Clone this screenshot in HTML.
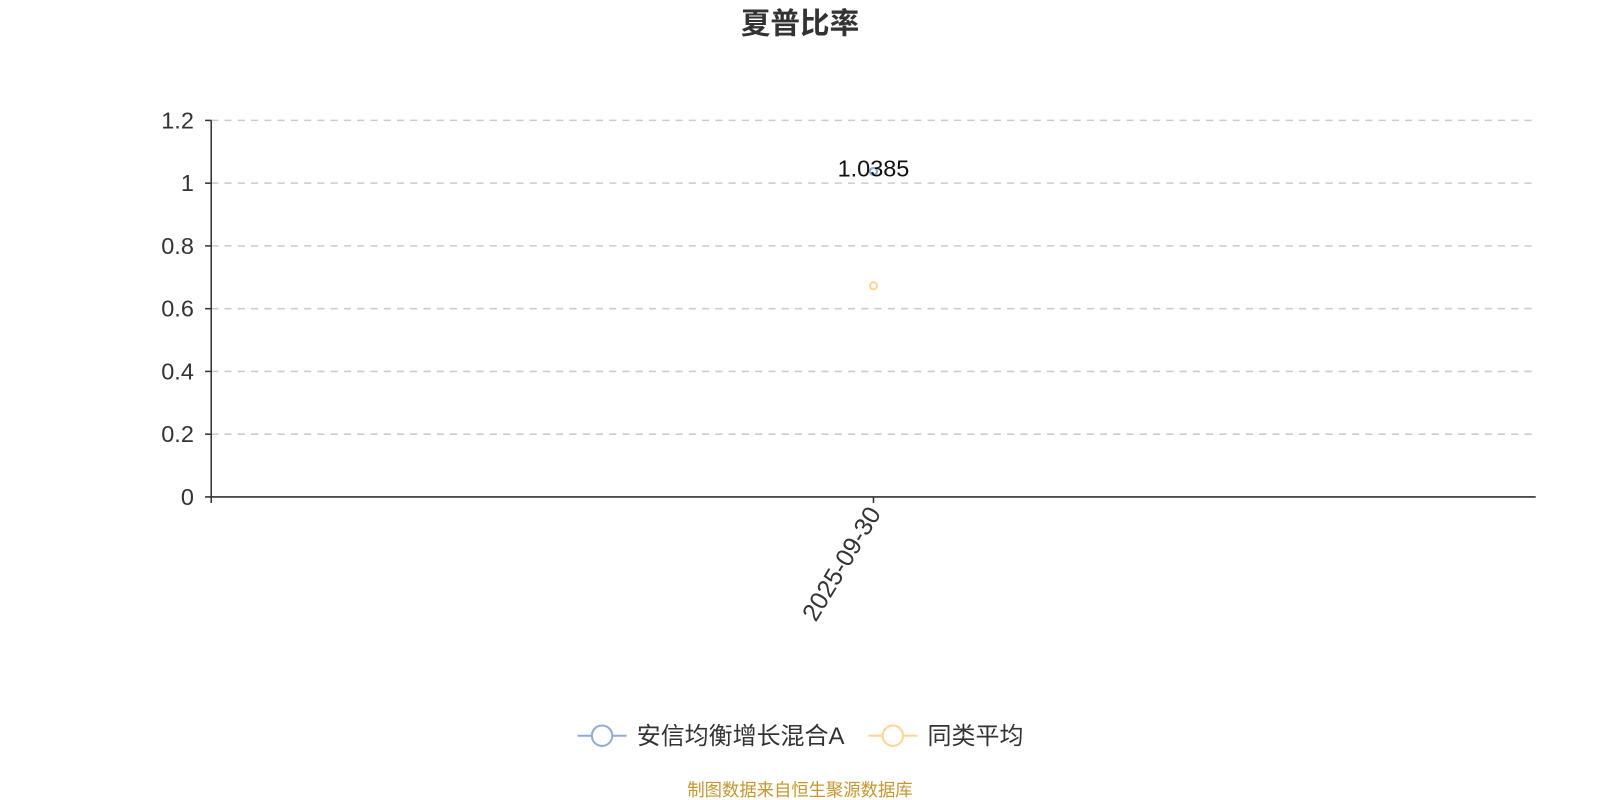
<!DOCTYPE html>
<html><head><meta charset="utf-8"><style>
body{margin:0;background:#fff;width:1600px;height:800px;overflow:hidden}
svg{display:block}
svg text{font-family:"Liberation Sans","Noto Sans CJK SC",sans-serif}
</style></head><body>
<svg width="1600" height="800" viewBox="0 0 1568 784" xmlns="http://www.w3.org/2000/svg">
<text x="784" y="33" text-anchor="middle" font-size="29" font-weight="bold" fill="#333">夏普比率</text>
<g stroke="#ccc" stroke-width="1.5" stroke-dasharray="7,6">
<line x1="207" y1="118" x2="1505" y2="118"/>
<line x1="207" y1="179.5" x2="1505" y2="179.5"/>
<line x1="207" y1="241" x2="1505" y2="241"/>
<line x1="207" y1="302.5" x2="1505" y2="302.5"/>
<line x1="207" y1="364" x2="1505" y2="364"/>
<line x1="207" y1="425.5" x2="1505" y2="425.5"/>
</g>
<g stroke="#333" stroke-width="1.5">
<line x1="207" y1="118" x2="207" y2="493"/>
<line x1="201" y1="487" x2="1505" y2="487"/>
<line x1="201" y1="118" x2="207" y2="118"/>
<line x1="201" y1="179.5" x2="207" y2="179.5"/>
<line x1="201" y1="241" x2="207" y2="241"/>
<line x1="201" y1="302.5" x2="207" y2="302.5"/>
<line x1="201" y1="364" x2="207" y2="364"/>
<line x1="201" y1="425.5" x2="207" y2="425.5"/>
<line x1="856" y1="487" x2="856" y2="493"/>
</g>
<g font-size="23" fill="#333" text-anchor="end">
<text x="190" y="126">1.2</text>
<text x="190" y="187">1</text>
<text x="190" y="249">0.8</text>
<text x="190" y="310">0.6</text>
<text x="190" y="372">0.4</text>
<text x="190" y="433">0.2</text>
<text x="190" y="495">0</text>
</g>
<text transform="translate(864,503) rotate(-59)" text-anchor="end" font-size="24.5" fill="#333">2025-09-30</text>
<circle cx="856" cy="168" r="3.5" fill="#fff" stroke="#8eacdb" stroke-width="2"/>
<circle cx="856" cy="280" r="3.5" fill="#fff" stroke="#ffd590" stroke-width="2"/>
<text x="856" y="173" text-anchor="middle" font-size="23" fill="#111">1.0385</text>
<line x1="566" y1="721" x2="614" y2="721" stroke="#8eacdb" stroke-width="2"/>
<circle cx="590" cy="721" r="10" fill="#fff" stroke="#8eacdb" stroke-width="2"/>
<text x="624" y="729" font-size="23.5" fill="#333">安信均衡增长混合A</text>
<line x1="851" y1="721" x2="899" y2="721" stroke="#ffd590" stroke-width="2"/>
<circle cx="875" cy="721" r="10" fill="#fff" stroke="#ffd590" stroke-width="2"/>
<text x="909" y="729" font-size="23.5" fill="#333">同类平均</text>
<text x="784" y="780" text-anchor="middle" font-size="17" fill="#c8962a">制图数据来自恒生聚源数据库</text>
</svg>
</body></html>
